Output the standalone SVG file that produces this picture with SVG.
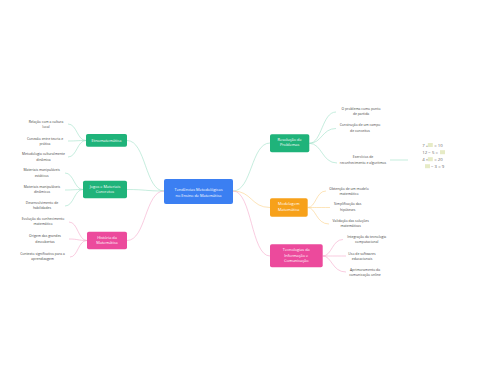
<svg xmlns="http://www.w3.org/2000/svg" width="480" height="384" viewBox="0 0 480 384">
<style>
.n text{font-family:"Open Sans","Noto Sans",sans-serif;fill:#fff;text-anchor:middle;font-size:3.9px}
.l text{font-family:"Open Sans","Noto Sans",sans-serif;fill:#444;text-anchor:middle;font-size:3.4px}
.c path{fill:none;stroke-width:0.6}
.g{stroke:#9fe0c7}
.o{stroke:#fbd28a}
.p{stroke:#f5a9cb}
.eq text{font-family:"Open Sans","Noto Sans",sans-serif;fill:#666;font-size:4.3px}
.eq rect{fill:#e6ebc6}
</style>
<rect width="480" height="384" fill="#fff"/>
<g id="connectors" class="c">
<path class="g" d="M164,191 C145,191 146,140.5 127,140.5"/>
<path class="g" d="M164,191 C145,191 146,189.5 127,189.5"/>
<path class="p" d="M164,191 C145,191 146,240.5 127,240.5"/>
<path class="g" d="M233,191 C252,191 251,143 270,143"/>
<path class="o" d="M233,191 C252,191 251,207.5 270,207.5"/>
<path class="p" d="M233,191 C252,191 251,256 270,256"/>
<path class="g" d="M86,140.5 C77,140.5 77,124 68,124"/>
<path class="g" d="M86,140.5 C77,140.5 77,141 68,141"/>
<path class="g" d="M86,140.5 C77,140.5 77,157 68,157"/>
<path class="g" d="M83,189.5 C74,189.5 74,173 65,173"/>
<path class="g" d="M83,189.5 C74,189.5 74,190 65,190"/>
<path class="g" d="M83,189.5 C74,189.5 74,206 65,206"/>
<path class="p" d="M87,240.5 C78,240.5 78,222 69,222"/>
<path class="p" d="M87,240.5 C78,240.5 78,239 69,239"/>
<path class="p" d="M87,240.5 C78,240.5 78,257 70,257"/>
<path class="g" d="M309.3,143.3 C322,143.3 322,112 336,112"/>
<path class="g" d="M309.3,143.3 C322,143.3 322,128.5 336,128.5"/>
<path class="g" d="M309.3,143.3 C322,143.3 322,163 337,163"/>
<path class="g" d="M390,160 L408,160"/>
<path class="o" d="M307.7,207.5 C316,207.5 316,191 326,191"/>
<path class="o" d="M307.7,207.5 C316,207.5 316,207.5 330,207.5"/>
<path class="o" d="M307.7,207.5 C316,207.5 316,224 329,224"/>
<path class="p" d="M322.7,256 C332,256 332,239.5 343,239.5"/>
<path class="p" d="M322.7,256 C332,256 332,256 346,256"/>
<path class="p" d="M322.7,256 C332,256 332,272 346,272"/>
</g>
<g id="center" class="n">
<rect x="164" y="179" width="69" height="25" rx="2" fill="#3b7ff2"/>
<text x="198.5" y="190.8" font-size="4.3">Tendências Metodológicas</text>
<text x="198.5" y="196.5" font-size="4.3">no Ensino de Matemática</text>
</g>
<g id="etno" class="n">
<rect x="86" y="134" width="41" height="12.7" rx="1.8" fill="#1fb37a"/>
<text x="106.5" y="141.8">Etnomatemática</text>
</g>
<g id="jogos" class="n">
<rect x="83" y="180.7" width="44" height="17.6" rx="1.8" fill="#1fb37a"/>
<text x="105" y="188.1">Jogos e Materiais</text>
<text x="105" y="193.2">Concretos</text>
</g>
<g id="historia" class="n">
<rect x="87" y="231.7" width="40" height="17.6" rx="1.8" fill="#ec4a9c"/>
<text x="107" y="239.1">História da</text>
<text x="107" y="244.2">Matemática</text>
</g>
<g id="resolucao" class="n">
<rect x="270" y="134.3" width="39.3" height="18" rx="1.8" fill="#1fb37a"/>
<text x="289.6" y="141.2">Resolução de</text>
<text x="289.6" y="146.4">Problemas</text>
</g>
<g id="modelagem" class="n">
<rect x="270" y="198.3" width="37.7" height="18.4" rx="1.8" fill="#f7a11a"/>
<text x="288.8" y="204.9">Modelagem</text>
<text x="288.8" y="210.6">Matemática</text>
</g>
<g id="tic" class="n">
<rect x="270" y="244.3" width="52.7" height="23" rx="1.8" fill="#ec4a9c"/>
<text x="296.3" y="251.4">Tecnologias da</text>
<text x="296.3" y="256.6">Informação e</text>
<text x="296.3" y="262">Comunicação</text>
</g>
<g id="leaf-etno-1" class="l"><text x="46" y="123">Relação com a cultura</text><text x="46" y="128">local</text></g>
<g id="leaf-etno-2" class="l"><text x="45" y="140">Conexão entre teoria e</text><text x="45" y="144.6">prática</text></g>
<g id="leaf-etno-3" class="l"><text x="43.5" y="155.2">Metodologia culturalmente</text><text x="43.5" y="160.5">dinâmica</text></g>
<g id="leaf-jogos-1" class="l"><text x="41.7" y="171.2">Materiais manipuláveis</text><text x="41.7" y="176.5">estáticos</text></g>
<g id="leaf-jogos-2" class="l"><text x="42" y="188">Materiais manipuláveis</text><text x="42" y="193">dinâmicos</text></g>
<g id="leaf-jogos-3" class="l"><text x="42" y="204">Desenvolvimento de</text><text x="42" y="209.2">habilidades</text></g>
<g id="leaf-hist-1" class="l"><text x="43" y="219.5">Evolução do conhecimento</text><text x="43" y="225">matemático</text></g>
<g id="leaf-hist-2" class="l"><text x="45" y="237.2">Origem das grandes</text><text x="45" y="242.5">descobertas</text></g>
<g id="leaf-hist-3" class="l"><text x="42.5" y="254.5">Contexto significativo para a</text><text x="42.5" y="260">aprendizagem</text></g>
<g id="leaf-res-1" class="l"><text x="361" y="109.5">O problema como ponto</text><text x="361" y="115">de partida</text></g>
<g id="leaf-res-2" class="l"><text x="360" y="126.2">Construção de um campo</text><text x="360" y="131.8">de conceitos</text></g>
<g id="leaf-res-3" class="l"><text x="363" y="158">Exercícios de</text><text x="363" y="163.5">reconhecimento e algoritmos</text></g>
<g id="leaf-mod-1" class="l"><text x="349" y="189.5">Obtenção de um modelo</text><text x="349" y="194.5">matemático</text></g>
<g id="leaf-mod-2" class="l"><text x="347.7" y="205.2">Simplificação das</text><text x="347.7" y="210.5">hipóteses</text></g>
<g id="leaf-mod-3" class="l"><text x="350.7" y="222">Validação das soluções</text><text x="350.7" y="227.2">matemáticas</text></g>
<g id="leaf-tic-1" class="l"><text x="366.7" y="238">Integração da tecnologia</text><text x="366.7" y="243">computacional</text></g>
<g id="leaf-tic-2" class="l"><text x="362" y="254.5">Uso de softwares</text><text x="362" y="259.5">educacionais</text></g>
<g id="leaf-tic-3" class="l"><text x="365" y="270.5">Aprimoramento da</text><text x="365" y="275.5">comunicação online</text></g>
<g id="equations" class="eq">
<text x="422.3" y="146.5">7 +</text><rect x="427.8" y="143" width="5" height="4"/><text x="434.3" y="146.5">= 10</text>
<text x="422.3" y="153.6">12 − 5 =</text><rect x="440" y="150.2" width="5" height="4"/>
<text x="422.3" y="160.7">4 ×</text><rect x="427.8" y="157.2" width="5" height="4"/><text x="434.3" y="160.7">= 20</text>
<rect x="425" y="164.2" width="5" height="4"/><text x="431" y="167.7">− 3 = 9</text>
</g>
</svg>
